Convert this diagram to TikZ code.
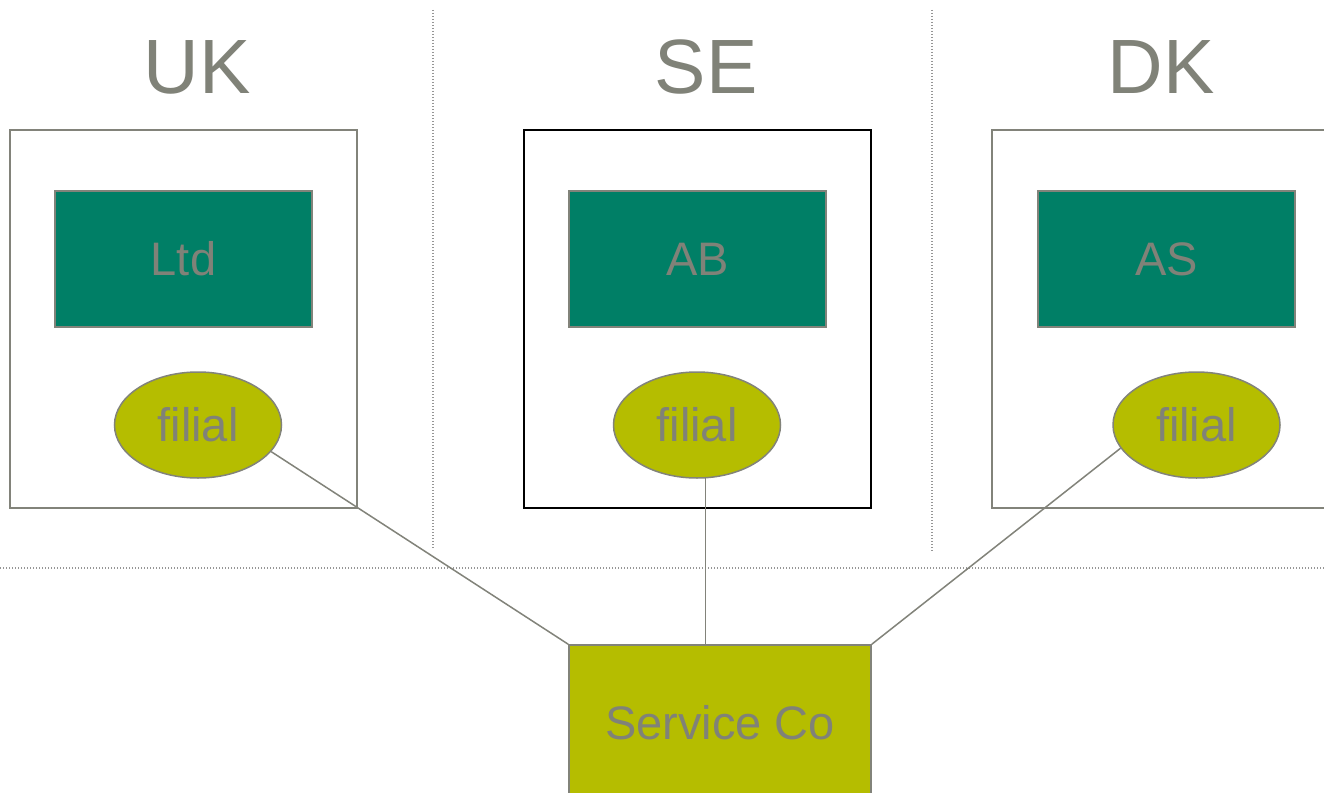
\documentclass[tikz,border=0pt]{standalone}
\usepackage{fontspec}
\setmainfont{Liberation Sans}
\usetikzlibrary{shapes.geometric}
\definecolor{teal1}{RGB}{0,127,102}
\definecolor{olive1}{RGB}{181,189,0}
\definecolor{txtgray}{RGB}{128,130,120}
\definecolor{lngray}{RGB}{130,131,122}
\definecolor{dotgray}{RGB}{150,150,150}
\tikzset{
  title/.style={anchor=base, text=txtgray, font=\fontsize{77}{90}\selectfont},
  outerbox/.style={draw=lngray, line width=1.5, fill=white},
  company/.style={draw=lngray, line width=1.5, fill=teal1, text=txtgray, minimum width=257, minimum height=136, inner sep=0, font=\fontsize{47}{56}\selectfont},
  branch/.style={ellipse, draw=lngray, line width=1.5, fill=olive1, text=txtgray, minimum width=167, minimum height=106, inner sep=0, font=\fontsize{47}{56}\selectfont},
  service/.style={draw=lngray, line width=1.5, fill=olive1, text=txtgray, minimum width=302, minimum height=155, inner sep=0, font=\fontsize{47}{56}\selectfont},
  link/.style={draw=lngray, line width=1.5},
  divider/.style={draw=dotgray, line width=1.3, dash pattern=on 1.3pt off 1.7pt}
}
\begin{document}
\begin{tikzpicture}[x=1pt,y=-1pt]
\useasboundingbox (0,0) rectangle (1324,792);
\clip (0,0) rectangle (1324,792);
\fill[white] (0,0) rectangle (1324,792);
% dividers
\draw[divider] (433,10) -- (433,548);
\draw[divider] (932,10) -- (932,552);
\draw[divider] (0,568) -- (1324,568);
% titles
\node[title] (tuk) at (197,93) {UK};
\node[title] (tse) at (706,93) {SE};
\node[title] (tdk) at (1161,93) {DK};
% outer boxes
\draw[outerbox] (10,130) rectangle (357,508);
\draw[outerbox, draw=black] (524,130) rectangle (871,508);
\draw[outerbox] (992,130) rectangle (1340,508);
% companies
\node[company] (ltd) at (183.5,259) {Ltd};
\node[company] (ab) at (697.5,259) {AB};
\node[company] (as) at (1166.5,259) {AS};
% branches
\node[branch] (uf) at (198,425) {filial};
\node[branch] (sf) at (697,425) {filial};
\node[branch] (df) at (1196.5,425) {filial};
% service company
\node[service] (sc) at (720,722.5) {Service Co};
% links
\draw[link] (uf.-20) -- (sc.north west);
\draw[link] (sf.-81) -- (sf.-81 |- sc.north);
\draw[link] (df.197) -- (sc.north east);
\end{tikzpicture}
\end{document}
